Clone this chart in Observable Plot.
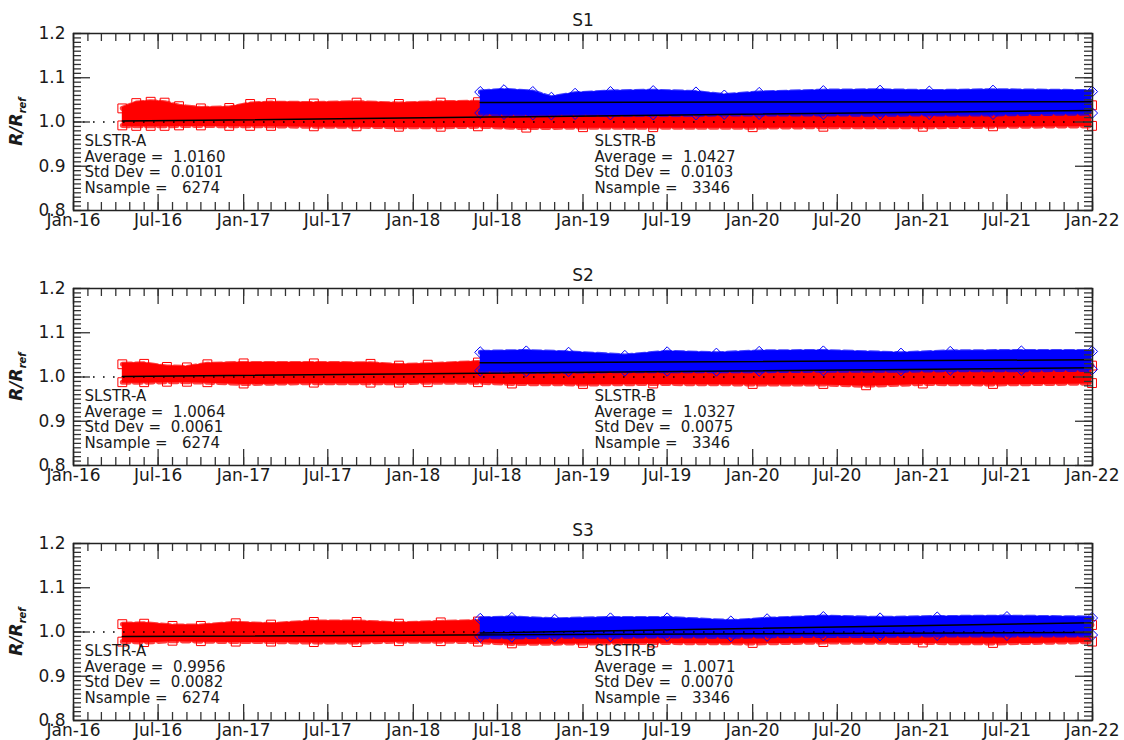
<!DOCTYPE html>
<html><head><meta charset="utf-8">
<script src="https://cdn.jsdelivr.net/npm/d3@7"></script>
<script src="https://cdn.jsdelivr.net/npm/@observablehq/plot@0.6"></script>
<style>
html,body{margin:0;padding:0;background:#fff;overflow:hidden;}
svg{display:block;}
svg text{white-space:pre;}
</style></head><body><div id="chart"></div>
<script>
// ---- axis ticks ----
const xMajorDates = ["2016-01-01","2016-07-01","2017-01-01","2017-07-01","2018-01-01","2018-07-01","2019-01-01","2019-07-01","2020-01-01","2020-07-01","2021-01-01","2021-07-01","2022-01-01"];
const xMajorLabels = ["Jan-16","Jul-16","Jan-17","Jul-17","Jan-18","Jul-18","Jan-19","Jul-19","Jan-20","Jul-20","Jan-21","Jul-21","Jan-22"];
const yTicks = [0.8, 0.9, 1.0, 1.1, 1.2];
const yTickLabels = ["0.8","0.9","1.0","1.1","1.2"];
const panelTitles = ["S1","S2","S3"];

// ---- S1 ----
const s1A_dates = ["2016-04-15","2016-05-15","2016-06-15","2016-07-15","2016-08-15","2016-10-01","2016-12-01","2017-01-15","2017-03-01","2017-06-01","2017-09-01","2017-12-01","2018-03-01","2018-05-20","2018-09-01","2019-01-01","2019-06-01","2020-01-01","2020-06-01","2021-01-01","2021-06-01","2021-12-31"];
const s1A_hi = [1.033,1.045,1.048,1.046,1.038,1.033,1.034,1.043,1.045,1.044,1.046,1.043,1.046,1.047,1.030,1.030,1.032,1.033,1.034,1.036,1.037,1.040];
const s1A_lo = [0.990,0.989,0.989,0.989,0.990,0.990,0.989,0.989,0.989,0.988,0.988,0.987,0.987,0.988,0.985,0.986,0.986,0.986,0.987,0.987,0.988,0.989];
const s1B_dates = ["2018-05-25","2018-07-15","2018-09-15","2018-10-25","2018-12-15","2019-03-01","2019-06-01","2019-09-01","2019-11-01","2020-01-15","2020-06-01","2020-10-01","2021-01-15","2021-06-01","2021-12-31"];
const s1B_hi = [1.070,1.074,1.070,1.057,1.066,1.070,1.072,1.069,1.062,1.068,1.072,1.073,1.071,1.073,1.071];
const s1B_lo = [1.018,1.016,1.015,1.015,1.016,1.015,1.015,1.015,1.016,1.016,1.016,1.015,1.016,1.016,1.018];

// ---- S2 ----
const s2A_dates = ["2016-04-15","2016-06-01","2016-07-20","2016-09-01","2016-10-15","2017-01-01","2017-06-01","2017-10-01","2017-12-01","2018-02-01","2018-05-20","2018-08-01","2019-01-01","2019-06-01","2020-01-01","2020-06-01","2020-09-01","2021-01-01","2021-06-01","2021-12-31"];
const s2A_hi = [1.031,1.032,1.025,1.024,1.031,1.033,1.033,1.032,1.028,1.030,1.035,1.020,1.021,1.022,1.022,1.024,1.024,1.026,1.026,1.028];
const s2A_lo = [0.986,0.986,0.987,0.987,0.986,0.983,0.985,0.985,0.985,0.986,0.986,0.983,0.982,0.983,0.982,0.982,0.979,0.983,0.982,0.984];
const s2B_dates = ["2018-05-25","2018-09-01","2018-12-01","2019-04-01","2019-07-01","2019-10-15","2020-01-15","2020-06-01","2020-11-15","2021-03-01","2021-08-01","2021-12-31"];
const s2B_hi = [1.058,1.060,1.057,1.050,1.058,1.055,1.059,1.060,1.055,1.059,1.060,1.060];
const s2B_lo = [1.012,1.011,1.011,1.012,1.012,1.012,1.012,1.013,1.013,1.014,1.014,1.015];

// ---- S3 ----
const s3A_dates = ["2016-04-15","2016-06-01","2016-08-01","2016-10-01","2016-12-15","2017-03-01","2017-06-01","2017-09-01","2017-12-01","2018-03-01","2018-05-20","2018-08-01","2019-01-01","2019-06-01","2020-01-01","2020-06-01","2021-01-01","2021-06-01","2021-12-31"];
const s3A_hi = [1.020,1.021,1.016,1.016,1.022,1.019,1.025,1.025,1.021,1.024,1.026,1.018,1.015,1.015,1.016,1.018,1.018,1.017,1.018];
const s3A_lo = [0.976,0.975,0.978,0.977,0.976,0.976,0.975,0.975,0.977,0.977,0.976,0.972,0.973,0.974,0.973,0.975,0.974,0.973,0.976];
const s3B_dates = ["2018-05-25","2018-08-01","2018-11-01","2019-03-01","2019-07-01","2019-11-15","2020-02-01","2020-06-01","2020-10-01","2021-02-01","2021-07-01","2021-12-31"];
const s3B_hi = [1.032,1.034,1.030,1.033,1.033,1.026,1.031,1.036,1.033,1.035,1.036,1.034];
const s3B_lo = [0.987,0.987,0.988,0.988,0.989,0.988,0.989,0.990,0.990,0.991,0.991,0.991];

// ---- linear fits (start, end) ----
const trendA_dates = ["2016-04-15","2021-12-31"];
const trendB_dates = ["2018-05-25","2021-12-31"];
const s1A_trend = [1.002, 1.026];
const s1B_trend = [1.044, 1.046];
const s2A_trend = [1.001, 1.021];
const s2B_trend = [1.032, 1.039];
const s3A_trend = [0.990, 0.999];
const s3B_trend = [0.998, 1.021];

// ---- statistics ----
const statsAvgA = ["1.0160","1.0064","0.9956"];
const statsSdA  = ["0.0101","0.0061","0.0082"];
const statsNA   = ["6274","6274","6274"];
const statsAvgB = ["1.0427","1.0327","1.0071"];
const statsSdB  = ["0.0103","0.0075","0.0070"];
const statsNB   = ["3346","3346","3346"];

// ---- build tables ----
const env = (dates, hi, lo) => dates.map((d, i) => ({date: new Date(d), hi: hi[i], lo: lo[i]}));
const trend = (dates, v) => dates.map((d, i) => ({date: new Date(d), v: v[i]}));
const panels = [
  {A: env(s1A_dates, s1A_hi, s1A_lo), B: env(s1B_dates, s1B_hi, s1B_lo), tA: trend(trendA_dates, s1A_trend), tB: trend(trendB_dates, s1B_trend)},
  {A: env(s2A_dates, s2A_hi, s2A_lo), B: env(s2B_dates, s2B_hi, s2B_lo), tA: trend(trendA_dates, s2A_trend), tB: trend(trendB_dates, s2B_trend)},
  {A: env(s3A_dates, s3A_hi, s3A_lo), B: env(s3B_dates, s3B_hi, s3B_lo), tA: trend(trendA_dates, s3A_trend), tB: trend(trendB_dates, s3B_trend)}
];

const xLabelMap = new Map(xMajorDates.map((d, i) => [+new Date(d), xMajorLabels[i]]));
const yLabelMap = new Map(yTicks.map((v, i) => [v, yTickLabels[i]]));
const RED = "#ff0000", BLUE = "#0000ff", TICK = "#333";

function bandMarks(data, color, symbol) {
  return [
    Plot.areaY(data, {x: "date", y1: "lo", y2: "hi", fill: color, curve: "linear"}),
    // jagged outline of overlapping markers along both edges
    Plot.line(data, {x: "date", y: "hi", stroke: color, strokeWidth: 5, strokeDasharray: "9,4", strokeOpacity: 0.75, dy: 1}),
    Plot.line(data, {x: "date", y: "lo", stroke: color, strokeWidth: 5, strokeDasharray: "7,5", strokeOpacity: 0.75, dy: -1}),
    Plot.dot(data, {x: "date", y: "hi", symbol, r: 5, stroke: color, strokeWidth: 1, fill: "none", dy: 1}),
    Plot.dot(data, {x: "date", y: "lo", symbol, r: 5, stroke: color, strokeWidth: 1, fill: "none", dy: -1})
  ];
}

function makePanel(k, height, marginBottom) {
  const p = panels[k];
  const W = 1124, mL = 73, mR = 32, mT = 33;
  const fw = W - mL - mR, fh = height - mT - marginBottom;
  const majorX = xMajorDates.map(d => new Date(d));
  const minorX = d3.utcMonth.range(new Date("2016-01-01"), new Date("2022-01-02"));
  const minorY = d3.range(80, 121).map(v => v / 100);
  const textA = `SLSTR-A\nAverage =  ${statsAvgA[k]}\nStd Dev =  ${statsSdA[k]}\nNsample =   ${statsNA[k]}`;
  const textB = `SLSTR-B\nAverage =  ${statsAvgB[k]}\nStd Dev =  ${statsSdB[k]}\nNsample =   ${statsNB[k]}`;
  const svg = Plot.plot({
    width: W, height, marginLeft: mL, marginRight: mR, marginTop: mT, marginBottom,
    style: {fontFamily: "'DejaVu Sans', sans-serif", fontSize: "17px", color: "#1a1a1a", background: "#fff"},
    x: {type: "utc", domain: [new Date("2016-01-01"), new Date("2022-01-01")]},
    y: {domain: [0.8, 1.2]},
    marks: [
      ...bandMarks(p.A, RED, "square"),
      ...bandMarks(p.B, BLUE, "diamond2"),
      // reference line and fits
      Plot.ruleY([1.0], {stroke: "#000", strokeWidth: 1.6, strokeDasharray: "1.6,8.4"}),
      Plot.line(p.tA, {x: "date", y: "v", stroke: "#000", strokeWidth: 1.5}),
      Plot.line(p.tB, {x: "date", y: "v", stroke: "#000", strokeWidth: 1.5}),
      // inward ticks
      Plot.tickX(minorX, {x: d => d, insetTop: fh - 8, stroke: TICK, strokeWidth: 1.3}),
      Plot.tickX(minorX, {x: d => d, insetBottom: fh - 8, stroke: TICK, strokeWidth: 1.3}),
      Plot.tickX(majorX, {x: d => d, insetTop: fh - 16, stroke: TICK, strokeWidth: 1.3}),
      Plot.tickX(majorX, {x: d => d, insetBottom: fh - 16, stroke: TICK, strokeWidth: 1.3}),
      Plot.tickY(minorY, {y: d => d, insetRight: fw - 8, stroke: TICK, strokeWidth: 1.3}),
      Plot.tickY(minorY, {y: d => d, insetLeft: fw - 8, stroke: TICK, strokeWidth: 1.3}),
      Plot.tickY(yTicks, {y: d => d, insetRight: fw - 17, stroke: TICK, strokeWidth: 1.3}),
      Plot.tickY(yTicks, {y: d => d, insetLeft: fw - 17, stroke: TICK, strokeWidth: 1.3}),
      Plot.axisX(majorX, {anchor: "bottom", tickSize: 0, tickPadding: 3, tickFormat: d => xLabelMap.get(+d), label: null, fontSize: 17}),
      Plot.axisY(yTicks, {anchor: "left", tickSize: 0, tickPadding: 8, tickFormat: d => yLabelMap.get(d), label: null, fontSize: 17}),
      Plot.frame({stroke: "#222", strokeWidth: 1.5}),
      // title and statistics
      Plot.text([panelTitles[k]], {frameAnchor: "top", dy: -20, fontSize: 17, fill: "#1a1a1a"}),
      Plot.text([textA], {frameAnchor: "top-left", dx: 11, dy: 102, lineAnchor: "top", textAnchor: "start", fontSize: 15, lineHeight: 1.03, fill: "#1a1a1a"}),
      Plot.text([textB], {frameAnchor: "top-left", dx: 521, dy: 102, lineAnchor: "top", textAnchor: "start", fontSize: 15, lineHeight: 1.03, fill: "#1a1a1a"})
    ]
  });
  // rotated y label with subscript
  const lab = d3.select(svg).append("text")
    .attr("transform", `translate(22,${mT + fh / 2}) rotate(-90)`)
    .attr("text-anchor", "middle")
    .attr("font-family", "'DejaVu Sans', sans-serif")
    .attr("font-weight", "bold").attr("font-style", "italic")
    .attr("font-size", 17).attr("fill", "#1a1a1a");
  lab.append("tspan").text("R/R");
  lab.append("tspan").attr("font-size", 10).attr("dy", 4).text("ref");
  return svg;
}

const root = document.getElementById("chart");
root.appendChild(makePanel(0, 255, 45));
root.appendChild(makePanel(1, 255, 45));
root.appendChild(makePanel(2, 250, 40));
</script>
</body></html>
